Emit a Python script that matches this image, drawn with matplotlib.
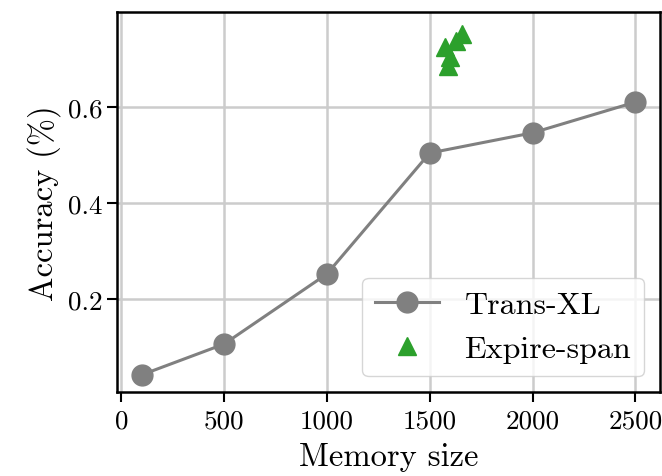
import matplotlib
matplotlib.use("Agg")
import matplotlib.pyplot as plt

plt.rcParams['font.family'] = 'serif'
plt.rcParams['font.serif'] = ['cmr10', 'DejaVu Serif']
plt.rcParams['mathtext.fontset'] = 'cm'
plt.rcParams['axes.formatter.use_mathtext'] = True

# Data
memory_sizes = [100, 500, 1000, 1500, 2000, 2500]
transxl_acc = [0.042, 0.106, 0.252, 0.504, 0.546, 0.610]
expire_mem = [1575, 1590, 1600, 1630, 1655]
expire_acc = [0.725, 0.685, 0.705, 0.738, 0.752]
x_ticks = [0, 500, 1000, 1500, 2000, 2500]
y_ticks = [0.2, 0.4, 0.6]

fig = plt.figure(figsize=(6.62, 4.77), dpi=100)
ax = fig.add_axes([0.177, 0.176, 0.82, 0.797])

ax.grid(True, color='#cccccc', linewidth=1.8, zorder=0)
ax.set_axisbelow(True)

ax.plot(memory_sizes, transxl_acc, color='#808080', marker='o', markersize=15,
        linewidth=2.2, label='Trans-XL', zorder=3)
ax.plot(expire_mem, expire_acc, color='#2ca02c', marker='^', markersize=13,
        linestyle='none', label='Expire-span', zorder=3)

ax.set_ylim(0.006, 0.798)
ax.set_xticks(x_ticks)
ax.set_xticklabels([str(v) for v in x_ticks])
ax.set_yticks(y_ticks)
ax.set_yticklabels([f"{v:.1f}" for v in y_ticks])
ax.tick_params(labelsize=19.5, width=1.5, length=7, direction='out')
ax.tick_params(axis='x', pad=5)
for s in ax.spines.values():
    s.set_linewidth(1.8)
    s.set_color('black')

ax.set_xlabel('Memory size', fontsize=23.5, labelpad=7)
ax.set_ylabel('Accuracy (%)', fontsize=23.5, labelpad=5)

leg = ax.legend(loc='lower right', fontsize=23, framealpha=0.8, edgecolor='#cccccc')

fig.savefig('out.png', dpi=100)
